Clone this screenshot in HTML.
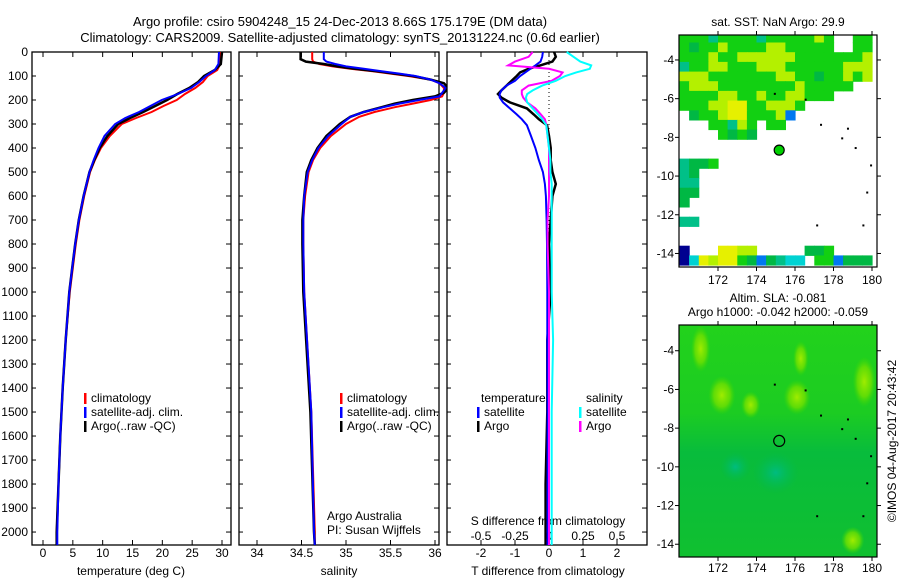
<!DOCTYPE html>
<html><head><meta charset="utf-8"><style>
html,body{margin:0;padding:0;background:#fff;}
svg{display:block;font-family:"Liberation Sans",sans-serif;}
text{fill:#000;}
</style></head><body>
<svg id="fig" width="900" height="580" viewBox="0 0 900 580">
<text x="340" y="26" font-size="13" text-anchor="middle">Argo profile: csiro 5904248_15 24-Dec-2013 8.66S 175.179E (DM data)</text>
<text x="340" y="42" font-size="13" text-anchor="middle">Climatology: CARS2009. Satellite-adjusted climatology: synTS_20131224.nc (0.6d earlier)</text>
<g id="layer"></g>
</svg>
<script>
// ---- profile data ----
const depthT=[0,50,75,100,125,150,175,200,225,250,275,300,350,400,450,500,600,700,800,900,1000,1200,1400,1600,1800,2000,2054];
const argoT=[30.0,29.8,28.8,27.0,26.0,24.5,22.5,20.8,18.8,16.8,14.6,12.6,10.8,9.5,8.6,7.8,6.8,6.0,5.4,4.9,4.4,3.8,3.3,2.9,2.6,2.3,2.3];
const climT=[29.8,29.7,29.2,27.6,26.8,25.5,23.8,22.4,20.2,18.2,15.6,13.2,11.2,9.7,8.7,7.9,6.9,6.1,5.5,5.0,4.5,3.8,3.3,2.9,2.6,2.3,2.3];
const satT=[29.5,29.4,28.8,27.3,26.2,24.8,22.6,19.9,18.0,16.1,13.8,12.1,10.3,9.3,8.5,7.8,6.8,6.0,5.4,4.9,4.4,3.8,3.3,2.9,2.6,2.4,2.4];
const depthS=[0,30,40,50,60,70,80,90,100,115,130,150,170,185,200,215,230,250,270,300,350,400,450,500,600,700,800,1000,1500,2000,2054];
const argoS=[34.49,34.49,34.55,34.75,34.9,35.1,35.35,35.55,35.75,35.95,36.1,36.15,36.1,36.0,35.75,35.55,35.4,35.2,35.05,34.93,34.78,34.68,34.61,34.56,34.53,34.51,34.51,34.52,34.6,34.64,34.65];
const climS=[34.62,34.62,34.63,34.7,34.85,35.05,35.3,35.5,35.7,35.95,36.05,36.1,36.1,36.08,35.95,35.75,35.55,35.32,35.15,35.0,34.83,34.71,34.63,34.58,34.54,34.52,34.52,34.53,34.61,34.65,34.65];
const satS=[34.75,34.75,34.78,34.88,35.0,35.2,35.4,35.6,35.78,35.95,36.05,36.12,36.08,36.05,35.82,35.6,35.42,35.2,35.05,34.95,34.8,34.69,34.62,34.57,34.53,34.52,34.52,34.53,34.61,34.64,34.65];
const depthD=[0,20,40,56,70,85,100,120,140,160,175,190,210,235,260,280,305,350,400,450,500,550,600,700,800,1000,1200,1500,1800,2054];
const argoTd=[0.15,0.2,0.1,-0.26,-0.6,-0.85,-0.95,-1.1,-1.25,-1.4,-1.5,-1.4,-1.15,-0.65,-0.45,-0.3,-0.06,0,0.05,0.05,0.1,0.2,0.1,0.05,0,0.05,-0.05,-0.05,-0.1,-0.1];
const satTd=[-0.18,-0.2,-0.25,-0.4,-0.55,-0.7,-0.85,-1.0,-1.25,-1.4,-1.45,-1.45,-1.35,-1.15,-0.95,-0.8,-0.65,-0.53,-0.4,-0.3,-0.18,-0.12,-0.09,-0.07,-0.06,-0.05,-0.05,-0.04,-0.04,-0.04];
const satSd=[0.13,0.18,0.23,0.31,0.3,0.2,0.12,0.05,-0.05,-0.12,-0.16,-0.17,-0.16,-0.12,-0.08,-0.05,-0.02,-0.01,0,0.01,0.01,0.02,0.02,0.02,0.02,0.02,0.03,0.02,0.02,0.02];
const argoSd=[-0.12,-0.15,-0.25,-0.3,0.0,0.1,0.08,0.02,-0.15,-0.2,-0.2,-0.19,-0.16,-0.1,-0.06,-0.03,-0.02,-0.01,0,0,0,0,0,-0.01,-0.01,0,0,0,0,0];
const depthTicks=[0,100,200,300,400,500,600,700,800,900,1000,1100,1200,1300,1400,1500,1600,1700,1800,1900,2000];
const tempTicks=[0,5,10,15,20,25,30];
const salTicks=[34,34.5,35,35.5,36];
const tdTicks=[-2,-1,0,1,2];
const sdTicks=[-0.5,-0.25,0,0.25,0.5];
// ---- map data (0.5 deg cells, rows from -2.6 southward; '.' = no data) ----
const sstRows=[
"gggtggggtgggggyg..gg",
"gGggyggggyyggggg..gg",
"gggyggyyyyyygggggggy",
"tggyygggyyyggggggyyy",
"yyygggggggyyggGggygy",
"gyyyggggggggyggggg..",
"ggggyyggyggyyggg....",
"gggyyYYggyyyg.......",
".GggyYYgggyb........",
"...ggtyg.gg.........",
"....gGgG............",
"....................",
"....................",
"tGGg................",
"tG..................",
"tt..................",
"GG..................",
"G...................",
"....................",
"tt..................",
"....................",
"....................",
"n...YYyy.....GGg....",
"ncYyYYgGbGtcc.ggbGGG"];
const sstColors={g:"#12d012",G:"#00b844",y:"#b4f000",Y:"#e6f000",t:"#00c088",c:"#00d2d2",b:"#0078f0",n:"#000090"};
const slaBlobs=[[171.1,-3.9,0.5,1.2],[172.2,-6.3,0.7,1.0],[176.1,-6.4,0.7,0.9],[176.3,-4.4,0.4,0.9],[179.6,-5.6,0.6,1.3],[179.0,-13.8,0.6,0.7],[173.7,-6.8,0.5,0.7]];
const slaLows=[[175.0,-10.3,1.2,1.1],[172.9,-10.0,0.8,0.8]];
const islands=[[174.9,-5.7],[176.5,-6.0],[177.3,-7.3],[178.7,-7.5],[178.4,-8.0],[179.1,-8.5],[179.9,-9.4],[179.7,-10.8],[177.1,-12.5],[179.5,-12.5]];
const argoPos=[175.179,-8.66];

const NS="http://www.w3.org/2000/svg";
const L=document.getElementById('layer');
function mk(t,a,p){const e=document.createElementNS(NS,t);for(const k in a)e.setAttribute(k,a[k]);(p||L).appendChild(e);return e;}
const Y0=52,Y1=545,DMAX=2054;
const yD=d=>Y0+d/DMAX*(Y1-Y0);
function lin(d0,d1,r0,r1){return v=>r0+(v-d0)/(d1-d0)*(r1-r0);}
const xT=lin(0,30,43,222), xS=lin(34,36,257,435), xTd=lin(0,1,549,583), xSd=lin(0,1,549,685);
function series(xs,vals,depths,color,w,name){
  let d="";vals.forEach((v,i)=>{d+=(i?"L":"M")+xs(v).toFixed(1)+","+yD(depths[i]).toFixed(1);});
  const p=mk('path',{d:d,fill:"none",stroke:color,"stroke-width":w,"stroke-linejoin":"miter"});
  
  
}
function txt(x,y,s,size,anchor,name,extra){const t=mk('text',Object.assign({x:x,y:y,"font-size":size,"text-anchor":anchor||"start"},extra||{}));t.textContent=s;
  
  return t;}
function panel(x0,x1,name){
  const g=mk('g',{});
  
  
  mk('rect',{x:x0,y:Y0,width:x1-x0,height:Y1-Y0,fill:"#fff",stroke:"#000","stroke-width":1.3},g);
  depthTicks.forEach(d=>{mk('line',{x1:x1,x2:x1-5,y1:yD(d),y2:yD(d),stroke:"#000"},g);mk('line',{x1:x0,x2:x0+4,y1:yD(d),y2:yD(d),stroke:"#000"},g);});
  return g;
}
function xticks(g,ticks,f,labels,ly,name){
  ticks.forEach(v=>{const x=f(v);mk('line',{x1:x,x2:x,y1:Y0,y2:Y0+5,stroke:"#000"},g);mk('line',{x1:x,x2:x,y1:Y1,y2:Y1-5,stroke:"#000"},g);
    if(labels)txt(x,ly,String(v),12,"middle",name);});
}
// panel 1
const g1=panel(32,231,'temperature-panel');
xticks(g1,tempTicks,xT,true,557,'temperature-tick-label');
depthTicks.forEach(d=>txt(28,yD(d)+4,String(d),12,"end",'depth-tick-label'));
txt(131,575,"temperature (deg C)",12,"middle",'temperature-axis-title');
series(xT,climT,depthT,"#f00",2,'temperature-climatology-line');
series(xT,argoT,depthT,"#000",2.5,'temperature-argo-line');
series(xT,satT,depthT,"#00f",2,'temperature-satellite-line');
// panel 2
const g2=panel(239,439,'salinity-panel');
xticks(g2,salTicks,xS,true,557,'salinity-tick-label');
txt(339,575,"salinity",12,"middle",'salinity-axis-title');
series(xS,climS,depthS,"#f00",2,'salinity-climatology-line');
series(xS,argoS,depthS,"#000",2.5,'salinity-argo-line');
series(xS,satS,depthS,"#00f",2,'salinity-satellite-line');
// panel 3
const g3=panel(447,647,'difference-panel');
tdTicks.forEach(v=>{const x=xTd(v);mk('line',{x1:x,x2:x,y1:Y0,y2:Y0+5,stroke:"#000"},g3);mk('line',{x1:x,x2:x,y1:Y1,y2:Y1-5,stroke:"#000"},g3);txt(x,557,String(v),12,"middle",'t-diff-tick-label');});
sdTicks.forEach(v=>txt(xSd(v),540,String(v),12,"middle",'s-diff-tick-label'));
txt(548,525,"S difference from climatology",12,"middle",'s-diff-axis-title');
txt(548,575,"T difference from climatology",12,"middle",'t-diff-axis-title');
mk('line',{x1:549,x2:549,y1:Y0,y2:yD(1000),stroke:"#000","stroke-dasharray":"1,3"});
series(xTd,argoTd,depthD,"#000",2.5,'t-diff-argo-line');
series(xTd,satTd,depthD,"#00f",2,'t-diff-satellite-line');
series(xSd,argoSd,depthD,"#f0f",2,'s-diff-argo-line');
series(xSd,satSd,depthD,"#0ff",2,'s-diff-satellite-line');
// legends
function leg(x,y,c,s,name){mk('rect',{x:x,y:y-9,width:2.5,height:11,fill:c});txt(x+7,y,s,12,"start",name);}
[[84],[340]].forEach(([lx])=>{leg(lx,402,"#f00","climatology",'legend-climatology');leg(lx,416,"#00f","satellite-adj. clim.",'legend-satellite');leg(lx,430,"#000","Argo(..raw -QC)",'legend-argo');});
txt(481,402,"temperature",12,"start",'legend-temperature-header');
leg(477,416,"#00f","satellite",'legend-t-satellite');leg(477,430,"#000","Argo",'legend-t-argo');
txt(586,402,"salinity",12,"start",'legend-salinity-header');
leg(579,416,"#0ff","satellite",'legend-s-satellite');leg(579,430,"#f0f","Argo",'legend-s-argo');
txt(327,520,"Argo Australia",12,"start",'credit-argo-australia');
txt(327,534,"PI: Susan Wijffels",12,"start",'credit-pi');
// maps
const MX0=679,MX1=877;
const lonX=lin(172,180,718,872);
function mapFrame(top,bot,latTop,name){
  const latY=lin(latTop,latTop-1,top,top+19.35);
  const g=mk('g',{});
  
  
  const cid='clip'+top;
  const cp=mk('clipPath',{id:cid},g);mk('rect',{x:MX0,y:top,width:MX1-MX0,height:bot-top},cp);
  const inner=mk('g',{"clip-path":"url(#"+cid+")"},g);
  return {g,inner,latY,top,bot};
}
function mapAxes(m,labelY){
  mk('rect',{x:MX0,y:m.top,width:MX1-MX0,height:m.bot-m.top,fill:"none",stroke:"#000","stroke-width":1.2},m.g);
  [172,174,176,178,180].forEach(l=>{const x=lonX(l);mk('line',{x1:x,x2:x,y1:m.top,y2:m.top-4,stroke:"#000"},m.g);mk('line',{x1:x,x2:x,y1:m.bot,y2:m.bot+4,stroke:"#000"},m.g);txt(x,labelY,String(l),12,"middle",'map-lon-label');});
  [-4,-6,-8,-10,-12,-14].forEach(l=>{const y=m.latY(l);mk('line',{x1:MX0,x2:MX0-4,y1:y,y2:y,stroke:"#000"},m.g);mk('line',{x1:MX1,x2:MX1+4,y1:y,y2:y,stroke:"#000"},m.g);txt(674,y+4,String(l),12,"end",'map-lat-label');});
}
// SST map
const m1=mapFrame(35,267,-2.71,'sst-map');
sstRows.forEach((row,r)=>{[...row].forEach((ch,c)=>{if(ch==='.')return;
  const x=lonX(170+c*0.5),y=m1.latY(-2.6-r*0.5);
  const cell=mk('rect',{x:x.toFixed(1),y:y.toFixed(1),width:10.2,height:10.2,fill:sstColors[ch]},m1.inner);
  
  
});});
islands.forEach(p=>mk('rect',{x:lonX(p[0]),y:m1.latY(p[1]),width:2,height:2,fill:"#000"},m1.inner));
const dot1=mk('circle',{cx:lonX(argoPos[0]),cy:m1.latY(argoPos[1]),r:5,fill:"#00d000",stroke:"#000","stroke-width":1.2},m1.g);


mapAxes(m1,284);
txt(778,26,"sat. SST: NaN Argo: 29.9",12,"middle",'sst-map-title');
// SLA map
const m2=mapFrame(325,557,-2.67,'sla-map');
const defs=mk('defs',{});
const lg=mk('linearGradient',{id:"slabg",x1:0,y1:0,x2:0,y2:1},defs);
mk('stop',{offset:"0",'stop-color':"#22d21c"},lg);mk('stop',{offset:"0.38",'stop-color':"#1ccc22"},lg);mk('stop',{offset:"0.55",'stop-color':"#08bc3c"},lg);mk('stop',{offset:"1",'stop-color':"#10c030"},lg);
const rg=mk('radialGradient',{id:"blob"},defs);mk('stop',{offset:"0",'stop-color':"#a0ec00"},rg);mk('stop',{offset:"0.6",'stop-color':"#70e000",'stop-opacity':"0.8"},rg);mk('stop',{offset:"1",'stop-color':"#40d800",'stop-opacity':"0"},rg);
const rl=mk('radialGradient',{id:"low"},defs);mk('stop',{offset:"0",'stop-color':"#00bc80"},rl);mk('stop',{offset:"1",'stop-color':"#00b850",'stop-opacity':"0"},rl);
mk('rect',{x:MX0,y:325,width:MX1-MX0,height:232,fill:"url(#slabg)"},m2.inner);
slaLows.forEach(b=>mk('ellipse',{cx:lonX(b[0]),cy:m2.latY(b[1]),rx:b[2]*19.3,ry:b[3]*19.3,fill:"url(#low)"},m2.inner));
slaBlobs.forEach(b=>mk('ellipse',{cx:lonX(b[0]),cy:m2.latY(b[1]),rx:b[2]*19.3,ry:b[3]*19.3,fill:"url(#blob)"},m2.inner));
islands.forEach(p=>mk('rect',{x:lonX(p[0]),y:m2.latY(p[1]),width:2,height:2,fill:"#000"},m2.inner));
const dot2=mk('circle',{cx:lonX(argoPos[0]),cy:m2.latY(argoPos[1]),r:5.5,fill:"none",stroke:"#000","stroke-width":1.2},m2.g);


mapAxes(m2,572);
txt(778,302,"Altim. SLA: -0.081",12,"middle",'sla-map-title');
txt(778,316,"Argo h1000: -0.042 h2000: -0.059",12,"middle",'sla-argo-heights');
txt(0,0,"©IMOS 04-Aug-2017 20:43:42",12,"middle",'imos-timestamp',{transform:"translate(896,441) rotate(-90)"});
</script>
</body></html>
